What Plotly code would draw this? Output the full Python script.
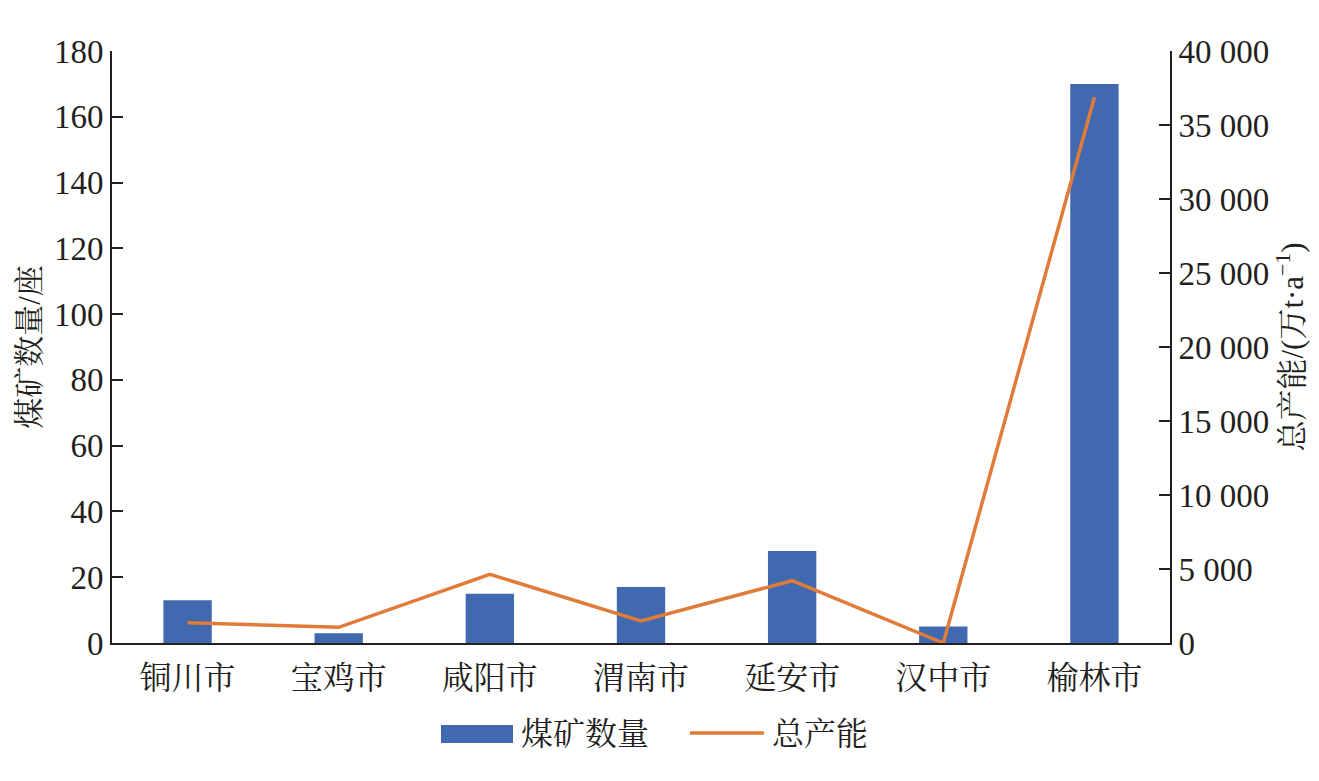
import plotly.graph_objects as go

cities = ["铜川市", "宝鸡市", "咸阳市", "渭南市", "延安市", "汉中市", "榆林市"]
mine_count = [13, 3, 15, 17, 28, 5, 170]
capacity = [1370, 1060, 4640, 1490, 4210, 0, 36870]

left_ticks = [0, 20, 40, 60, 80, 100, 120, 140, 160, 180]
right_ticks = [0, 5000, 10000, 15000, 20000, 25000, 30000, 35000, 40000]

FONT = "Liberation Serif, 'Times New Roman', 'Noto Serif CJK SC', 'Noto Sans CJK SC', serif"
INK = "#231F20"
BLUE = "#4169B0"
ORANGE = "#E07B39"

# page offset of the figure (default body margin)
OFF = 8
# plot area in page pixels
PL, PR, PT, PB = 112, 1170, 51, 643
W, H = 1319 - OFF, 781 - OFF
L, T = PL - OFF, PT - OFF
R, B = W - (PR - OFF), H - (PB - OFF)
PW, PH = PR - PL, PB - PT


def px(xp):
    return (xp - PL) / PW


def py(yp):
    return (PB - yp) / PH


fig = go.Figure()
fig.add_trace(go.Bar(
    x=cities, y=mine_count, name="煤矿数量",
    marker=dict(color=BLUE, line=dict(width=0)),
    width=0.32, yaxis="y", showlegend=False,
))
fig.add_trace(go.Scatter(
    x=cities, y=capacity, name="总产能", mode="lines",
    line=dict(color=ORANGE, width=3.5), yaxis="y2", showlegend=False,
))

# custom legend
fig.add_shape(type="rect", xref="paper", yref="paper",
              x0=px(441), x1=px(513), y0=py(743), y1=py(725),
              fillcolor=BLUE, line=dict(width=0))
fig.add_shape(type="line", xref="paper", yref="paper",
              x0=px(690), x1=px(764), y0=py(733), y1=py(733),
              line=dict(color=ORANGE, width=3.5))
fig.add_annotation(text="煤矿数量", xref="paper", yref="paper", x=px(519), y=py(734),
                   xanchor="left", yanchor="middle", showarrow=False, font=dict(size=32))
fig.add_annotation(text="总产能", xref="paper", yref="paper", x=px(770), y=py(734),
                   xanchor="left", yanchor="middle", showarrow=False, font=dict(size=32))

fig.update_layout(
    width=W, height=H,
    margin=dict(l=L, r=R, t=T, b=B, pad=0),
    paper_bgcolor="white", plot_bgcolor="white",
    font=dict(family=FONT, size=32, color=INK),
    separators=". ",
    showlegend=False,
    xaxis=dict(showline=True, linecolor=INK, linewidth=2, ticks="", showgrid=False,
               tickfont=dict(size=32), zeroline=False, automargin=False, ticklabelstandoff=6),
    yaxis=dict(range=[0, 180], tickvals=left_ticks, showline=True, linecolor=INK, linewidth=2,
               ticks="inside", ticklen=11, tickwidth=2, tickcolor=INK, showgrid=False, zeroline=False,
               tickfont=dict(size=33), automargin=False,
               title=dict(text="煤矿数量/座", font=dict(size=31), standoff=4)),
    yaxis2=dict(range=[0, 40000], tickvals=right_ticks, tickformat=",d", overlaying="y", side="right",
                showline=True, linecolor=INK, linewidth=2, ticks="inside", ticklen=11, tickwidth=2,
                tickcolor=INK, showgrid=False, zeroline=False, tickfont=dict(size=33), automargin=False,
                title=dict(text="总产能/(万t·a<sup>−1</sup>)", font=dict(size=31), standoff=13)),
)

fig.write_html("out.html")
